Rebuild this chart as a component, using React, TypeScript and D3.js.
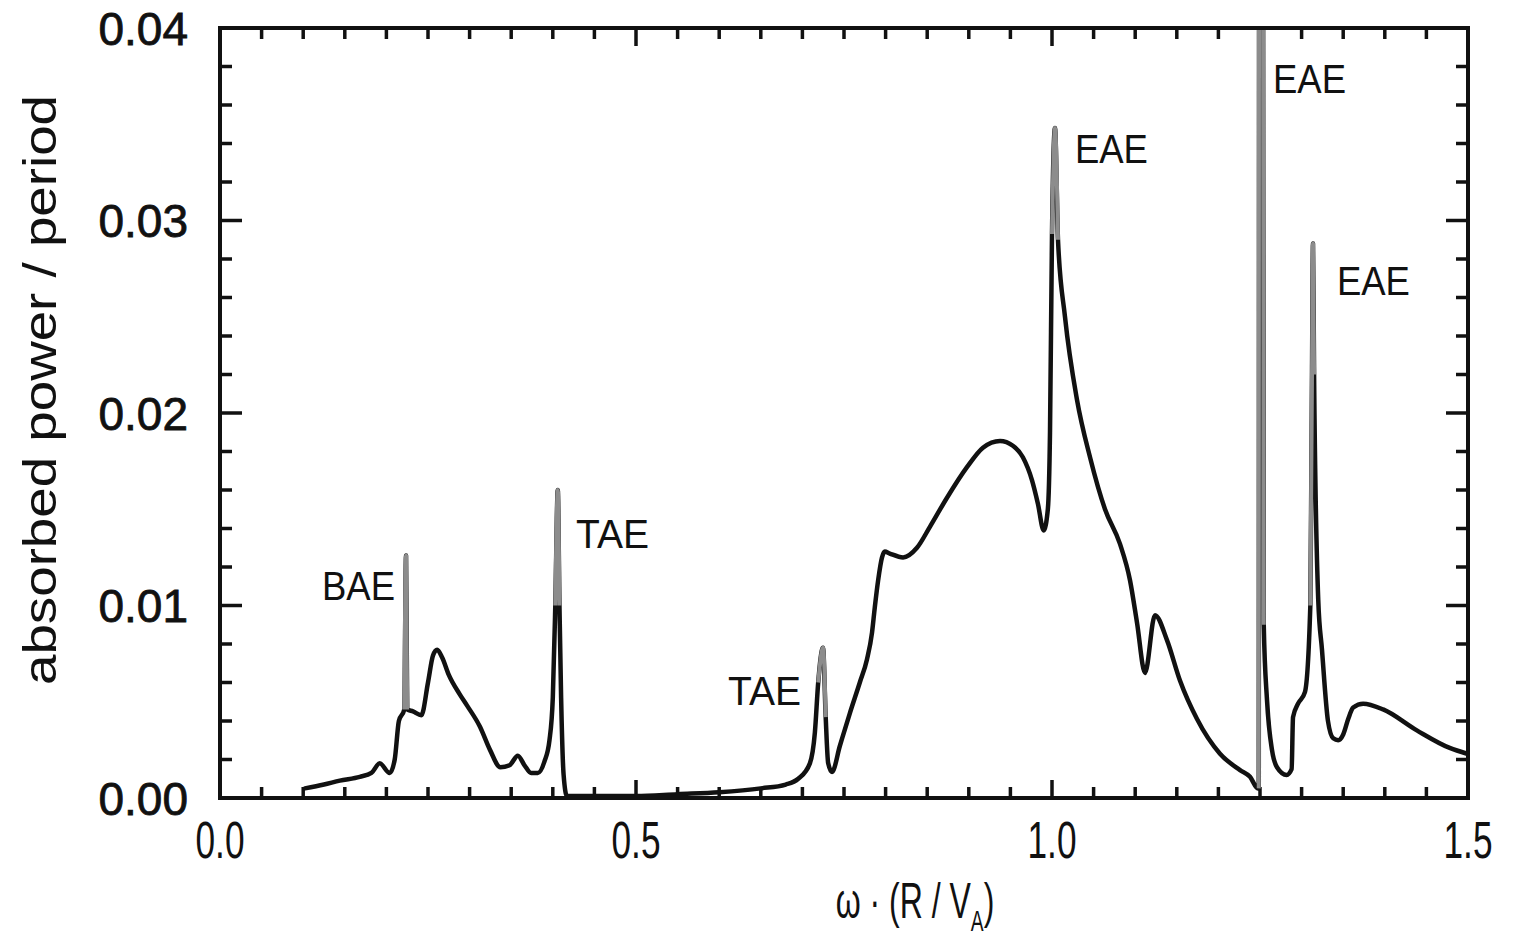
import React from "react";
import * as d3 from "d3";

// ---- data ----
const omega: number[] = [
  0.102, 0.125, 0.144, 0.168, 0.182, 0.192, 0.204, 0.210, 0.215, 0.2215, 0.2236, 0.2250,
  0.232, 0.242, 0.250, 0.256, 0.261, 0.267, 0.275, 0.288, 0.297, 0.3125, 0.3245, 0.337,
  0.348, 0.358, 0.366, 0.374, 0.382, 0.390, 0.396, 0.400, 0.403, 0.4060, 0.408, 0.410,
  0.413, 0.417, 0.430, 0.500, 0.550, 0.600, 0.650, 0.680, 0.695, 0.709, 0.715, 0.719,
  0.7248, 0.728, 0.731, 0.7356, 0.745, 0.757, 0.769, 0.7776, 0.7837, 0.787, 0.791, 0.7957,
  0.799, 0.805, 0.821, 0.8377, 0.8534, 0.8738, 0.898, 0.917, 0.9375, 0.953, 0.965, 0.976,
  0.983, 0.990, 0.995, 0.9976, 1.000, 1.0036, 1.0072, 1.0156, 1.030, 1.0457, 1.0637,
  1.0817, 1.0938, 1.1022, 1.1118, 1.1238, 1.1382, 1.1538, 1.1743, 1.2019, 1.226, 1.238,
  1.2475, 1.2485, 1.2490, 1.2535, 1.2545, 1.2584, 1.2644, 1.2704, 1.282, 1.288, 1.2897,
  1.2957, 1.304, 1.3105, 1.3125, 1.3137, 1.3150, 1.3200, 1.3245, 1.3317, 1.338, 1.344,
  1.350, 1.356, 1.362, 1.374, 1.398, 1.439, 1.478, 1.499,
];
const power: number[] = [
  0.0005, 0.0007, 0.0009, 0.0011, 0.0013, 0.0018, 0.0013, 0.0020, 0.0040, 0.0046, 0.0126, 0.0046,
  0.0045, 0.0043, 0.0060, 0.0074, 0.0077, 0.0073, 0.0064, 0.0054, 0.0048, 0.0037, 0.0025, 0.0016,
  0.0017, 0.0022, 0.0017, 0.0013, 0.0013, 0.0019, 0.0030, 0.0052, 0.0100, 0.0160, 0.0100, 0.0052,
  0.0012, 0.0001, 0.0001, 0.0001, 0.0002, 0.0003, 0.0005, 0.0007, 0.0010, 0.0018, 0.0034, 0.0060,
  0.0078, 0.0042, 0.0018, 0.00135, 0.0027, 0.0044, 0.0060, 0.0072, 0.0086, 0.0099, 0.0113, 0.0125,
  0.0128, 0.0127, 0.0125, 0.0130, 0.0141, 0.0156, 0.0172, 0.0182, 0.01855, 0.0183, 0.0177, 0.0165,
  0.0153, 0.0139, 0.0150, 0.0190, 0.0293, 0.0348, 0.0290, 0.0250, 0.0207, 0.0177, 0.0150,
  0.0132, 0.0113, 0.0091, 0.0065, 0.0095, 0.0082, 0.0061, 0.0041, 0.0023, 0.00145, 0.0011,
  0.0005, 0.0005, 0.0500, 0.0500, 0.0090, 0.0051, 0.0025, 0.0016, 0.0012, 0.0015, 0.0042,
  0.0049, 0.0055, 0.0100, 0.0220, 0.0288, 0.0220, 0.0103, 0.0077, 0.0040, 0.0031, 0.0030,
  0.0033, 0.0041, 0.0047, 0.0049, 0.0046, 0.0035, 0.0026, 0.0023,
];
// narrow resonance spikes (drawn grey, as printed)
const spikeStart: number[] = [0.2212, 0.401, 0.717, 0.9985, 1.2483, 1.3095];
const spikeEnd: number[] = [0.2255, 0.4095, 0.730, 1.0085, 1.2548, 1.3185];

const labelText: string[] = ["BAE", "TAE", "TAE", "EAE", "EAE", "EAE"];
const labelX: number[] = [0.1226, 0.428, 0.6106, 1.0276, 1.2656, 1.3425];
const labelY: number[] = [0.01029, 0.0130, 0.00483, 0.0330, 0.0366, 0.02613];

const xTickLabels: string[] = ["0.0", "0.5", "1.0", "1.5"];
const yTickLabels: string[] = ["0.00", "0.01", "0.02", "0.03", "0.04"];

// ---- layout ----
const W = 1515;
const H = 941;
const L = 220, R = 1468, T = 28, B = 798;
const FONT = "'Liberation Sans', Arial, Helvetica, sans-serif";

export default function App() {
  const x = d3.scaleLinear().domain([0, 1.5]).range([L, R]);
  const y = d3.scaleLinear().domain([0, 0.04]).range([B, T]);
  const pts: [number, number][] = omega.map((w, i) => [w, power[i]]);
  const line = d3
    .line<[number, number]>()
    .x((d) => x(d[0]))
    .y((d) => y(d[1]))
    .curve(d3.curveMonotoneX);
  const mainPath = line(pts) || "";
  const spikePaths = spikeStart.map((s, k) => {
    const e = spikeEnd[k];
    const seg = pts.filter((p) => p[0] >= s && p[0] <= e);
    return line(seg) || "";
  });

  const xMinor = d3.range(0, 30 + 1).map((i) => i * 0.05);
  const yMinor = d3.range(0, 20 + 1).map((i) => i * 0.002);
  const isMajorX = (v: number) => Math.abs(v * 2 - Math.round(v * 2)) < 1e-6;
  const isMajorY = (v: number) => Math.abs(v * 100 - Math.round(v * 100)) < 1e-6;

  return (
    <svg
      width={W}
      height={H}
      style={{ position: "absolute", left: 0, top: 0, background: "#fff" }}
      fontFamily={FONT}
    >
      <defs>
        <clipPath id="plotclip">
          <rect x={L} y={T} width={R - L} height={B - T} />
        </clipPath>
      </defs>
      <rect x={0} y={0} width={W} height={H} fill="#fff" />

      {/* ticks */}
      <g stroke="#111" strokeWidth={3.5}>
        {xMinor.map((v, i) => {
          const len = isMajorX(v) ? 18 : 11;
          return (
            <g key={"xt" + i}>
              <line x1={x(v)} x2={x(v)} y1={B} y2={B - len} />
              <line x1={x(v)} x2={x(v)} y1={T} y2={T + len} />
            </g>
          );
        })}
        {yMinor.map((v, i) => {
          const len = isMajorY(v) ? 22 : 12;
          return (
            <g key={"yt" + i}>
              <line x1={L} x2={L + len} y1={y(v)} y2={y(v)} />
              <line x1={R} x2={R - len} y1={y(v)} y2={y(v)} />
            </g>
          );
        })}
      </g>

      {/* curve */}
      <g clipPath="url(#plotclip)">
        <path d={mainPath} fill="none" stroke="#111" strokeWidth={4.5} strokeLinejoin="round" strokeLinecap="round" />
        {spikePaths.map((d, i) => (
          <path key={"sp" + i} d={d} fill="none" stroke="#8c8c8c" strokeWidth={4} strokeLinejoin="round" />
        ))}
      </g>

      {/* frame */}
      <rect x={L} y={T} width={R - L} height={B - T} fill="none" stroke="#111" strokeWidth={4} />

      {/* tick labels */}
      {xTickLabels.map((t, i) => (
        <text
          key={"xl" + i}
          x={x(+t)}
          y={858}
          textAnchor="middle"
          fontSize={52}
          fill="#111"
          textLength={49}
          lengthAdjust="spacingAndGlyphs"
        >
          {t}
        </text>
      ))}
      {yTickLabels.map((t, i) => (
        <text
          key={"yl" + i}
          x={188}
          y={y(+t)}
          dy="0.36em"
          textAnchor="end"
          fontSize={46}
          fill="#111"
          stroke="#111"
          strokeWidth={0.8}
        >
          {t}
        </text>
      ))}

      {/* annotations */}
      {labelText.map((t, i) => (
        <text
          key={"an" + i}
          x={x(labelX[i])}
          y={y(labelY[i])}
          fontSize={40}
          fill="#111"
          textLength={73}
          lengthAdjust="spacingAndGlyphs"
        >
          {t}
        </text>
      ))}

      {/* axis titles */}
      <text
        transform={`translate(56, 390) rotate(-90)`}
        textAnchor="middle"
        fontSize={46}
        fill="#111"
        textLength={590}
        lengthAdjust="spacingAndGlyphs"
      >
        absorbed power / period
      </text>
      <g transform="translate(915, 918) scale(0.64, 1)">
        <text x={0} y={0} textAnchor="middle" fontSize={50} fill="#111">
          ω · (R / V<tspan fontSize={30} dy={13}>A</tspan>
          <tspan dy={-13}>)</tspan>
        </text>
      </g>
    </svg>
  );
}
